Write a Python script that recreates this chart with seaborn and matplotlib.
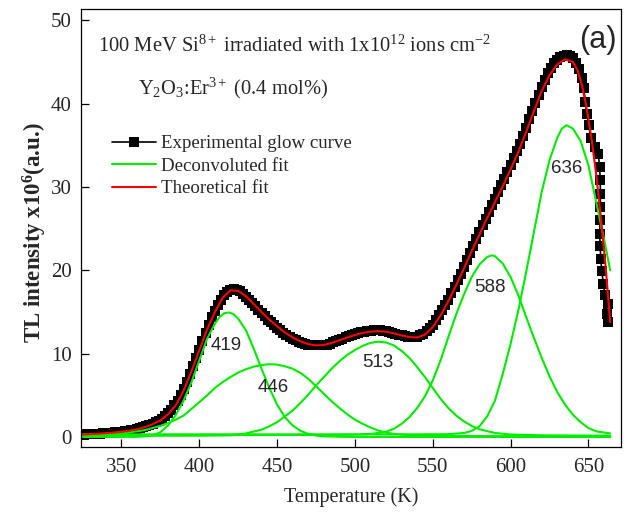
import numpy as np
import matplotlib
matplotlib.use("Agg")
import matplotlib.pyplot as plt
import seaborn as sns

# Experimental glow curve (black squares)
exp_T = list(range(324, 647, 2)) + [
    647.0, 648.0, 649.0, 650.2, 651.5, 654.0, 656.3, 657.2, 657.6, 657.7, 657.7,
    657.6, 657.2, 657.6, 657.9, 658.6, 659.6, 660.8, 662.5, 661.8, 662.3,
]
exp_v = [
    0.30, 0.32, 0.34, 0.36, 0.38, 0.40, 0.42, 0.45, 0.48, 0.51,
    0.54, 0.58, 0.62, 0.66, 0.71, 0.76, 0.82, 0.89, 0.97, 1.06,
    1.16, 1.28, 1.42, 1.58, 1.76, 1.97, 2.22, 2.52, 2.88, 3.30,
    3.80, 4.38, 5.05, 5.80, 6.65, 7.55, 8.50, 9.50, 10.50, 11.50,
    12.50, 13.45, 14.35, 15.15, 15.85, 16.50, 17.00, 17.40, 17.70, 17.80,
    17.70, 17.50, 17.20, 16.85, 16.50, 16.10, 15.70, 15.30, 14.90, 14.50,
    14.10, 13.75, 13.40, 13.10, 12.80, 12.50, 12.25, 12.00, 11.80, 11.60,
    11.45, 11.30, 11.20, 11.10, 11.05, 11.00, 11.00, 11.00, 11.05, 11.10,
    11.20, 11.35, 11.50, 11.65, 11.80, 11.95, 12.10, 12.25, 12.35, 12.45,
    12.55, 12.65, 12.70, 12.75, 12.80, 12.80, 12.80, 12.75, 12.70, 12.60,
    12.50, 12.40, 12.30, 12.20, 12.10, 12.05, 12.00, 12.00, 12.05, 12.20,
    12.40, 12.70, 13.10, 13.50, 14.00, 14.60, 15.20, 15.85, 16.50, 17.25,
    18.00, 18.80, 19.60, 20.40, 21.25, 22.10, 22.95, 23.80, 24.60, 25.40,
    26.20, 27.00, 27.80, 28.60, 29.40, 30.20, 31.00, 31.80, 32.60, 33.45,
    34.30, 35.20, 36.10, 37.10, 38.10, 39.10, 40.10, 41.05, 42.00, 42.85,
    43.60, 44.25, 44.80, 45.25, 45.55, 45.75, 45.80, 45.70, 45.40, 44.90,
    44.10, 43.00,
    41.9, 40.2, 38.8, 37.4, 35.9, 34.8, 34.0, 32.4, 30.8, 29.2, 27.6,
    26.0, 24.4, 22.9, 21.4, 19.9, 18.4, 17.0, 16.0, 14.8, 13.8,
]

# Theoretical fit (red)
fit_T = [324, 330, 335, 340, 345, 350, 355, 360, 365, 370, 375, 380, 385, 390,
         395, 400, 405, 410, 415, 420, 425, 430, 435, 440, 445, 450, 455, 460,
         465, 470, 475, 480, 485, 490, 495, 500, 505, 510, 515, 520, 525, 530,
         535, 540, 545, 550, 555, 560, 565, 570, 575, 580, 585, 590, 595, 600,
         605, 610, 615, 620, 625, 630, 635, 640, 643, 646, 649, 652, 655, 658,
         661, 664]
fit_v = [0.30, 0.36, 0.42, 0.48, 0.56, 0.65, 0.78, 0.95, 1.2, 1.55, 2.0, 2.75,
         3.85, 5.6, 7.9, 10.4, 12.9, 15.0, 16.7, 17.6, 17.55, 16.9, 15.95, 15.0,
         14.1, 13.3, 12.55, 11.95, 11.5, 11.15, 11.0, 11.05, 11.3, 11.6, 11.95,
         12.25, 12.5, 12.65, 12.7, 12.65, 12.45, 12.2, 12.0, 11.95, 12.3, 13.2,
         14.6, 16.3, 18.2, 20.2, 22.3, 24.3, 26.3, 28.2, 30.1, 32.1, 34.2, 36.6,
         39.1, 41.5, 43.4, 44.7, 45.3, 45.0, 44.0, 42.1, 39.3, 35.8, 31.5, 26.3,
         20.6, 13.8]

# Deconvoluted peaks (green)
p419_T = [325, 360, 365, 370, 375, 380, 385, 390, 395, 400, 405, 410, 413, 416,
          419, 422, 425, 430, 435, 440, 445, 450, 455, 460, 465, 470, 475, 480,
          490, 500, 664]
p419_v = [0.02, 0.04, 0.1, 0.2, 0.6, 1.4, 2.7, 4.4, 6.6, 9.2, 11.8, 13.6, 14.4,
          14.85, 14.95, 14.75, 14.2, 12.8, 10.6, 8.2, 5.9, 3.9, 2.4, 1.4, 0.75,
          0.4, 0.2, 0.1, 0.05, 0.03, 0.02]

p446_T = [325, 330, 335, 340, 345, 350, 355, 360, 365, 370, 375, 380, 385, 390,
          395, 400, 405, 410, 415, 420, 425, 430, 435, 440, 445, 450, 455, 460,
          465, 470, 475, 480, 485, 490, 495, 500, 505, 510, 515, 520, 525, 530,
          540, 550, 664]
p446_v = [0.12, 0.15, 0.2, 0.27, 0.35, 0.45, 0.57, 0.7, 0.85, 1.1, 1.35, 1.7,
          2.1, 2.6, 3.4, 4.2, 5.0, 5.9, 6.6, 7.2, 7.75, 8.15, 8.45, 8.65, 8.75,
          8.7, 8.5, 8.2, 7.7, 7.0, 6.1, 5.2, 4.3, 3.5, 2.75, 2.1, 1.6, 1.15, 0.8,
          0.55, 0.4, 0.3, 0.2, 0.14, 0.1]

p513_T = [325, 400, 420, 430, 440, 445, 450, 455, 460, 465, 470, 475, 480, 485,
          490, 495, 500, 505, 510, 515, 520, 525, 530, 535, 540, 545, 550, 555,
          560, 565, 570, 575, 580, 590, 600, 620, 664]
p513_v = [0.18, 0.18, 0.22, 0.45, 0.9, 1.3, 1.8, 2.5, 3.2, 4.1, 5.1, 6.2, 7.2, 8.2,
          9.1, 9.85, 10.45, 10.95, 11.3, 11.45, 11.35, 11.0, 10.35, 9.5, 8.4,
          7.2, 5.9, 4.6, 3.5, 2.6, 1.9, 1.35, 0.95, 0.5, 0.32, 0.22, 0.18]

p588_T = [325, 480, 500, 510, 520, 525, 530, 535, 540, 545, 550, 555, 560, 565,
          570, 575, 580, 585, 588, 590, 595, 600, 605, 610, 615, 620, 625, 630,
          635, 640, 645, 650, 655, 664]
p588_v = [0.26, 0.26, 0.3, 0.38, 0.65, 1.0, 1.6, 2.4, 3.5, 4.9, 6.8, 9.2, 12.0,
          14.7, 17.1, 19.2, 20.7, 21.6, 21.8, 21.7, 20.8, 19.2, 17.0, 14.4, 11.9,
          9.5, 7.3, 5.4, 3.9, 2.7, 1.8, 1.1, 0.7, 0.45]

p636_T = [325, 540, 560, 570, 575, 580, 585, 590, 595, 600, 605, 610, 615, 620,
          625, 630, 633, 636, 640, 645, 650, 655, 660, 664]
p636_v = [0.34, 0.34, 0.36, 0.5, 0.75, 1.3, 2.5, 4.4, 7.6, 11.2, 15.2, 19.8, 24.6,
          29.4, 33.2, 35.9, 37.0, 37.4, 37.0, 35.5, 32.6, 28.2, 23.8, 20.0]

peak_names = ["419", "446", "513", "588", "636"]
peak_label_T = [417, 447.5, 515, 586.5, 636]
peak_label_v = [11.0, 6.0, 8.9, 17.9, 32.2]

sns.set_theme(style="ticks")
plt.rcParams["font.family"] = ["Liberation Serif", "DejaVu Serif"]
plt.rcParams["mathtext.fontset"] = "custom"
plt.rcParams["mathtext.rm"] = "Liberation Serif"
plt.rcParams["mathtext.it"] = "Liberation Serif:italic"
plt.rcParams["mathtext.bf"] = "Liberation Serif:bold"

fig = plt.figure(figsize=(6.28, 5.14), dpi=100)
ax = fig.add_axes([0.129, 0.130, 0.860, 0.852])

# experimental points
sns.lineplot(x=exp_T, y=exp_v, ax=ax, color="black", marker="s", markersize=7,
             markeredgewidth=0, linewidth=1.2, sort=False, estimator=None,
             label="Experimental glow curve")

# deconvoluted peaks
green = "#00ee00"
first = True
for T, v in [(p419_T, p419_v), (p446_T, p446_v), (p513_T, p513_v),
             (p588_T, p588_v), (p636_T, p636_v)]:
    sns.lineplot(x=T, y=v, ax=ax, color=green, linewidth=1.5, sort=False,
                 estimator=None,
                 label="Deconvoluted fit" if first else "_nolegend_")
    first = False

# theoretical fit
sns.lineplot(x=fit_T, y=fit_v, ax=ax, color="red", linewidth=1.5, sort=False,
             estimator=None, label="Theoretical fit")

for name, t, v in zip(peak_names, peak_label_T, peak_label_v):
    ax.text(t, v, name, fontsize=13.5, family="Liberation Sans",
            ha="center", va="center")

ax.text(0.031, 0.902,
        "100 MeV Si$^{8+}$ irradiated with 1x10$^{12}$ ions cm$^{-2}$",
        transform=ax.transAxes, fontsize=14.8, ha="left", va="baseline")
ax.text(0.106, 0.806, "Y$_2$O$_3$:Er$^{3+}$ (0.4 mol%)",
        transform=ax.transAxes, fontsize=14.8, ha="left", va="baseline")
ax.text(0.957, 0.93, "(a)", transform=ax.transAxes, fontsize=22,
        family="Liberation Sans", ha="center", va="center")

ax.legend(loc="upper left", bbox_to_anchor=(0.058, 0.713), borderaxespad=0,
          borderpad=0, frameon=False, fontsize=13.6, handlelength=2.3,
          handletextpad=0.25, labelspacing=0.28, numpoints=1)

ax.set_xlim(324, 671)
ax.set_ylim(-1.2, 51.3)
ax.set_xticks([350, 400, 450, 500, 550, 600, 650])
ax.set_yticks([0, 10, 20, 30, 40, 50])
ax.tick_params(direction="in", length=6, width=0.9, labelsize=15,
               color="black", top=False, right=False)
ax.tick_params(axis="x", pad=8)
ax.tick_params(axis="y", pad=6.5)
for s in ax.spines.values():
    s.set_color("black")
    s.set_linewidth(0.9)

ax.set_xlabel("Temperature (K)", fontsize=14.5)
ax.set_ylabel(r"TL intensity x10$^{\mathbf{6}}$(a.u.)", fontsize=16.5,
              fontweight="bold")
ax.xaxis.set_label_coords(0.5, -0.092)
ax.yaxis.set_label_coords(-0.085, 0.49)
ax.xaxis.label.set_va("top")
ax.yaxis.label.set_va("center")

fig.savefig("out.png", dpi=100)
